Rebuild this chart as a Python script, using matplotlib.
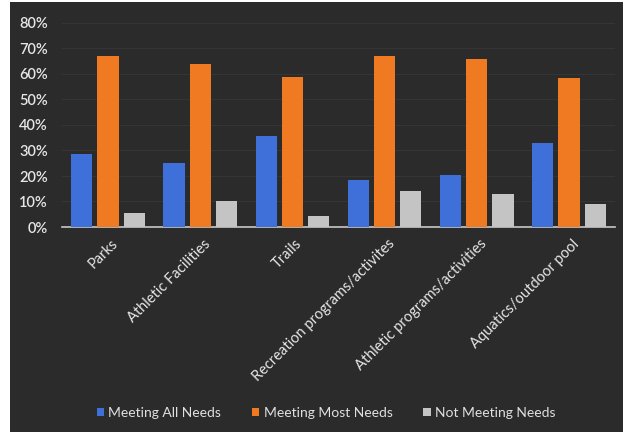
import matplotlib.pyplot as plt
import numpy as np
from matplotlib.patches import Rectangle
from matplotlib.ticker import FuncFormatter

categories = ["Parks", "Athletic Facilities", "Trails", "Recreation programs/activites",
              "Athletic programs/activities", "Aquatics/outdoor pool"]
meeting_all = [28.5, 25, 35.5, 18.5, 20.5, 33]
meeting_most = [67, 64, 59, 67, 66, 58.5]
not_meeting = [5.5, 10, 4.5, 14, 13, 9]
series_names = ["Meeting All Needs", "Meeting Most Needs", "Not Meeting Needs"]
yticks = [0, 10, 20, 30, 40, 50, 60, 70, 80]

plt.rcParams['font.family'] = ['Lato', 'DejaVu Sans']

W, H = 627, 436
fig = plt.figure(figsize=(W / 100, H / 100), dpi=100)
fig.patch.set_facecolor('white')

# dark panel behind the chart
fig.add_artist(Rectangle((10 / W, 4 / H), 613 / W, 430 / H, transform=fig.transFigure,
                         facecolor='#2b2b2b', edgecolor='none', zorder=0))

ax = fig.add_axes([62 / W, (H - 227) / H, 553 / W, 204 / H])
ax.set_facecolor('none')

x = np.arange(len(categories))
w = 0.23
off = 0.285
colors = ['#3f6fd8', '#f07a22', '#c4c4c4']
ax.bar(x - off, meeting_all, w, color=colors[0], label=series_names[0], zorder=3)
ax.bar(x, meeting_most, w, color=colors[1], label=series_names[1], zorder=3)
ax.bar(x + off, not_meeting, w, color=colors[2], label=series_names[2], zorder=3)

ax.set_xlim(-0.5, len(categories) - 0.5)
ax.set_ylim(0, 80)
ax.set_yticks(yticks)
ax.yaxis.set_major_formatter(FuncFormatter(lambda v, p: f"{v:.0f}%"))
ax.grid(axis='y', color='#353535', linewidth=0.8, zorder=0)
for s in ['top', 'right', 'left']:
    ax.spines[s].set_visible(False)
ax.spines['bottom'].set_color('#c8c8c8')
ax.spines['bottom'].set_linewidth(1.2)
ax.tick_params(axis='y', length=0, colors='#e6e6e6', labelsize=10.5, pad=10)
for t in ax.get_yticklabels():
    t.set_fontweight('semibold')

ax.set_xticks(x + 0.03)
ax.set_xticklabels(categories, rotation=45, ha='right', rotation_mode='anchor',
                   fontsize=10.5, color='#e6e6e6')
ax.tick_params(axis='x', length=0, pad=7)

fig.legend(loc='center', bbox_to_anchor=(326 / W, 23 / H), ncol=3, frameon=False,
           fontsize=10, labelcolor='#e0e0e0', handlelength=0.55, handleheight=0.55,
           handletextpad=0.3, columnspacing=2.2)

fig.savefig('out.png', dpi=100, facecolor=fig.get_facecolor())
